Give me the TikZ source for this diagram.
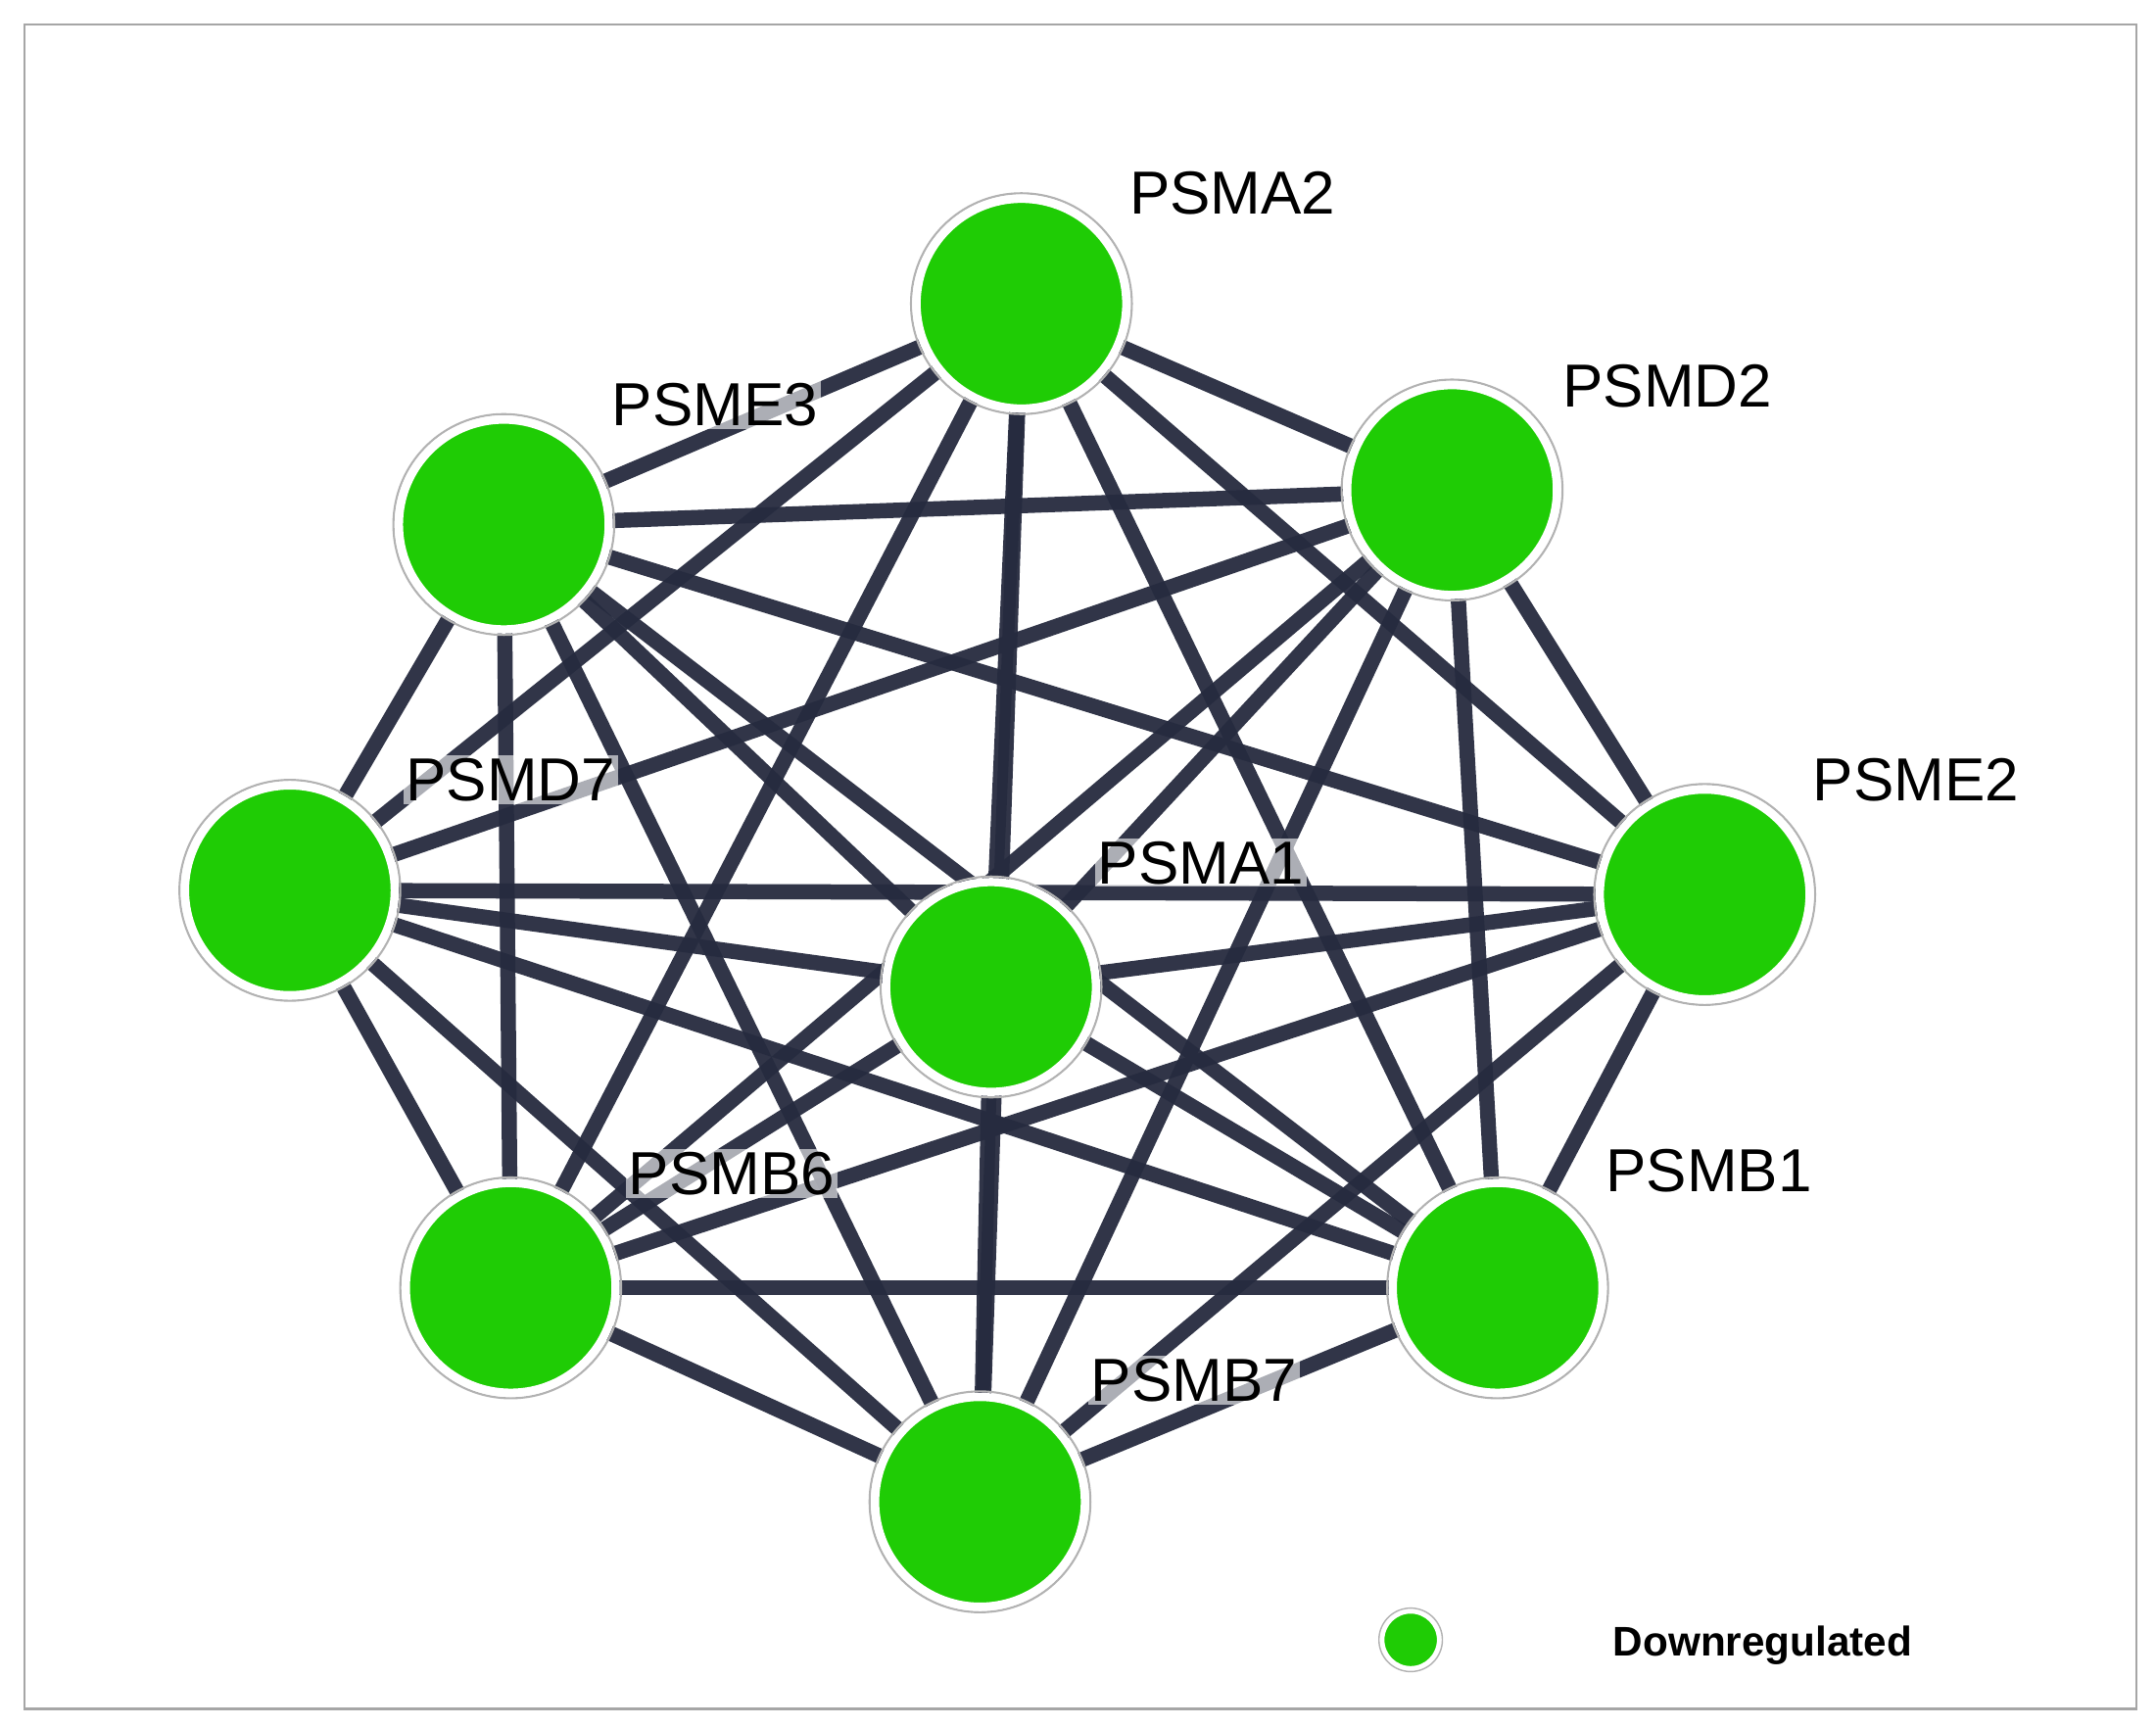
\documentclass[tikz,border=0pt]{standalone}
\usepackage{fontspec}
\setmainfont{Liberation Sans}
\definecolor{edge}{HTML}{262B3F}
\definecolor{nodegreen}{HTML}{1FCC05}
\begin{document}
\begin{tikzpicture}[x=1pt,y=-1pt,
  gene/.style={circle,minimum size=152pt,inner sep=0pt,fill=nodegreen,draw=white,line width=6pt},
  ring/.style={circle,minimum size=160pt,inner sep=0pt,draw=gray!60,line width=1.5pt},
  lab/.style={font=\fontsize{44}{46}\selectfont, text=black, fill=white, fill opacity=0.6, text opacity=1, inner sep=2pt},
  link/.style={edge,line width=11pt,opacity=0.95}]
\useasboundingbox (0,0) rectangle (1562,1251);
\fill[white] (0,0) rectangle (1562,1251);
\draw[gray!70,line width=1.5pt] (18,18) rectangle (1548,1238);
\coordinate (A2) at (740,220);
\coordinate (E3) at (365,380);
\coordinate (D2) at (1052,355);
\coordinate (D7) at (210,645);
\coordinate (A1) at (718,715);
\coordinate (E2) at (1235,648);
\coordinate (B6) at (370,933);
\coordinate (B1) at (1085,933);
\coordinate (B7) at (710,1088);
\foreach \a/\b in {A2/E3,A2/D2,A2/D7,A2/A1,A2/E2,A2/B6,A2/B1,A2/B7,
  E3/D2,E3/D7,E3/A1,E3/E2,E3/B6,E3/B1,E3/B7,
  D2/D7,D2/A1,D2/E2,D2/B6,D2/B1,D2/B7,
  D7/A1,D7/E2,D7/B6,D7/B1,D7/B7,
  A1/E2,A1/B6,A1/B1,A1/B7,
  E2/B6,E2/B1,E2/B7,
  B6/B1,B6/B7,B1/B7}
  \draw[link] (\a) -- (\b);
\node[lab] at (893,140) {PSMA2};
\node[lab] at (518,293) {PSME3};
\node[lab] at (1208,280) {PSMD2};
\node[lab] at (370,565) {PSMD7};
\node[lab] at (870,625) {PSMA1};
\node[lab] at (1388,565) {PSME2};
\node[lab] at (530,850) {PSMB6};
\node[lab] at (1238,848) {PSMB1};
\node[lab] at (865,1000) {PSMB7};
\foreach \n in {A2,E3,D2,D7,A1,E2,B6,B1,B7}{
  \node[ring] at (\n) {};
  \node[gene] (n\n) at (\n) {};
}
\node[circle,minimum size=42pt,inner sep=0pt,fill=nodegreen,draw=white,line width=4pt] (leg) at (1022,1188) {};
\node[circle,minimum size=46pt,inner sep=0pt,draw=gray!60,line width=1pt] at (1022,1188) {};
\node[font=\bfseries\fontsize{30}{32}\selectfont] (legt) at (1277,1192) {Downregulated};
\end{tikzpicture}
\end{document}
